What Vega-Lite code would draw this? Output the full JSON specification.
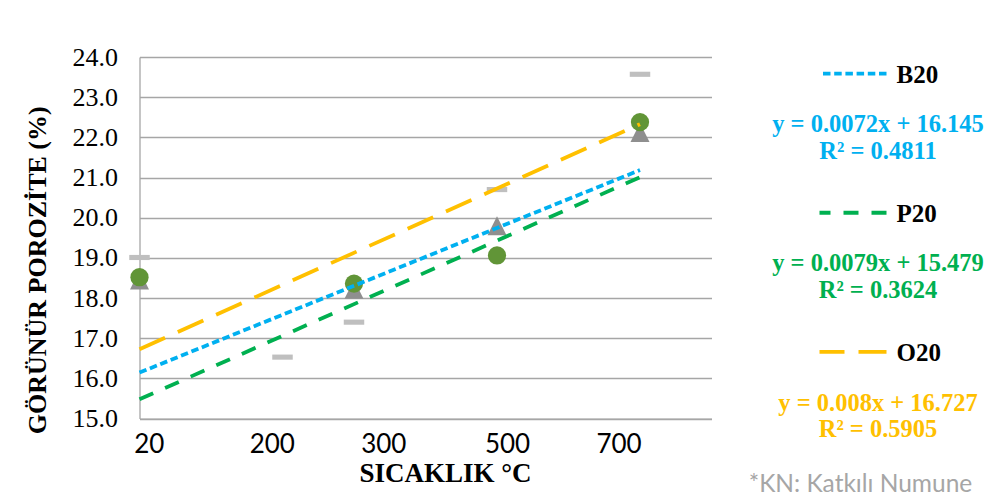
{
  "$schema": "https://vega.github.io/schema/vega-lite/v6.json",
  "background": "white",
  "padding": {"left": 23.5, "top": 44, "right": 0, "bottom": 0},
  "spacing": 37,
  "config": {"view": {"stroke": null}, "font": "Liberation Serif"},
  "datasets": {
    "olcum": [
      {"seri": "B20", "sicaklik": 0, "porozite": 18.45},
      {"seri": "B20", "sicaklik": 200, "porozite": 14.37},
      {"seri": "B20", "sicaklik": 300, "porozite": 18.22},
      {"seri": "B20", "sicaklik": 500, "porozite": 19.8},
      {"seri": "B20", "sicaklik": 700, "porozite": 22.12},
      {"seri": "P20", "sicaklik": 0, "porozite": 18.52},
      {"seri": "P20", "sicaklik": 200, "porozite": 12.51},
      {"seri": "P20", "sicaklik": 300, "porozite": 18.36},
      {"seri": "P20", "sicaklik": 500, "porozite": 19.06},
      {"seri": "P20", "sicaklik": 700, "porozite": 22.38},
      {"seri": "O20", "sicaklik": 0, "porozite": 19.01},
      {"seri": "O20", "sicaklik": 200, "porozite": 16.53},
      {"seri": "O20", "sicaklik": 300, "porozite": 17.4},
      {"seri": "O20", "sicaklik": 500, "porozite": 20.7},
      {"seri": "O20", "sicaklik": 700, "porozite": 23.57}
    ],
    "egilim": [
      {"seri": "B20", "sicaklik": 0, "porozite": 16.145},
      {"seri": "B20", "sicaklik": 700, "porozite": 21.185},
      {"seri": "P20", "sicaklik": 0, "porozite": 15.479},
      {"seri": "P20", "sicaklik": 700, "porozite": 21.009},
      {"seri": "O20", "sicaklik": 0, "porozite": 16.727},
      {"seri": "O20", "sicaklik": 700, "porozite": 22.327}
    ],
    "aciklama": [
      {"seri": "B20", "etiket": "B20", "denklem": "y = 0.0072x + 16.145", "r2": "R² = 0.4811"},
      {"seri": "P20", "etiket": "P20", "denklem": "y = 0.0079x + 15.479", "r2": "R² = 0.3624"},
      {"seri": "O20", "etiket": "O20", "denklem": "y = 0.008x + 16.727", "r2": "R² = 0.5905"},
      {"seri": "not", "etiket": "*KN: Katkılı Numune", "denklem": "", "r2": ""}
    ]
  },
  "hconcat": [
    {
      "width": 572,
      "height": 361.6,
      "encoding": {
        "x": {
          "field": "sicaklik",
          "type": "quantitative",
          "scale": {"domain": [0, 800], "nice": false, "zero": false},
          "axis": {
            "values": [13, 185, 341, 514, 670],
            "labelExpr": "datum.value < 100 ? '20' : datum.value < 250 ? '200' : datum.value < 400 ? '300' : datum.value < 600 ? '500' : '700'",
            "grid": false,
            "ticks": false,
            "domainColor": "#a6a6a6",
            "domainWidth": 1.3,
            "labelFont": "Lato",
            "labelFontSize": 26,
            "labelColor": "#000000",
            "labelPadding": 13,
            "labelFlush": false,
            "labelOverlap": false,
            "title": "SICAKLIK °C",
            "titleFont": "Liberation Serif",
            "titleFontSize": 27,
            "titleFontWeight": "bold",
            "titleColor": "#000000",
            "titleX": 305.5,
            "titleY": 63,
            "titleAlign": "center",
            "titleBaseline": "alphabetic"
          }
        },
        "y": {
          "field": "porozite",
          "type": "quantitative",
          "scale": {"domain": [15, 24], "nice": false, "zero": false},
          "axis": {
            "values": [15, 16, 17, 18, 19, 20, 21, 22, 23, 24],
            "format": ".1f",
            "grid": true,
            "gridColor": "#a6a6a6",
            "gridWidth": 1.3,
            "domainColor": "#a6a6a6",
            "domainWidth": 1.3,
            "ticks": false,
            "labelFont": "Liberation Serif",
            "labelFontSize": 26,
            "labelColor": "#000000",
            "labelPadding": 22,
            "title": "GÖRÜNÜR POROZİTE (%)",
            "titleFont": "Liberation Serif",
            "titleFontSize": 26,
            "titleFontWeight": "bold",
            "titleColor": "#000000",
            "titleAngle": -90,
            "titleX": -94,
            "titleY": 212.8,
            "titleAlign": "center",
            "titleBaseline": "alphabetic"
          }
        }
      },
      "layer": [
        {
          "data": {"name": "olcum"},
          "transform": [{"filter": "datum.seri === 'B20' && datum.porozite >= 15"}],
          "mark": {"type": "point", "shape": "M0,-1L1,1L-1,1Z", "filled": true, "size": 361, "color": "#8f8f8f", "opacity": 1}
        },
        {
          "data": {"name": "olcum"},
          "transform": [{"filter": "datum.seri === 'P20' && datum.porozite >= 15"}],
          "mark": {"type": "point", "shape": "circle", "filled": true, "size": 333, "color": "#619537", "opacity": 1}
        },
        {
          "data": {"name": "olcum"},
          "transform": [{"filter": "datum.seri === 'O20' && datum.porozite >= 15"}],
          "mark": {"type": "point", "shape": "M-1,-0.25L1,-0.25L1,0.25L-1,0.25Z", "filled": true, "size": 420, "color": "#bfbfbf", "opacity": 1}
        },
        {
          "data": {"name": "egilim"},
          "mark": {"type": "line", "strokeWidth": 3.8, "strokeCap": "butt"},
          "encoding": {
            "color": {"field": "seri", "type": "nominal", "scale": {"domain": ["B20", "P20", "O20"], "range": ["#00b0f0", "#00b050", "#ffc000"]}, "legend": null},
            "strokeDash": {"field": "seri", "type": "nominal", "scale": {"domain": ["B20", "P20", "O20"], "range": [[7.5, 3.7], [15, 13], [28, 14]]}, "legend": null}
          }
        }
      ]
    },
    {
      "width": 67,
      "height": 450.7,
      "data": {"name": "aciklama"},
      "encoding": {
        "y": {"field": "seri", "type": "nominal", "scale": {"type": "point", "domain": ["B20", "P20", "O20", "not"], "padding": 0.119}, "axis": null}
      },
      "layer": [
        {
          "transform": [{"filter": "datum.seri !== 'not'"}],
          "mark": {"type": "rule", "strokeWidth": 3.8, "strokeCap": "butt"},
          "encoding": {
            "color": {"field": "seri", "type": "nominal", "scale": {"domain": ["B20", "P20", "O20"], "range": ["#00b0f0", "#00b050", "#ffc000"]}, "legend": null},
            "strokeDash": {"field": "seri", "type": "nominal", "scale": {"domain": ["B20", "P20", "O20"], "range": [[7.5, 3.7], [15, 13], [28, 14]]}, "legend": null}
          }
        },
        {
          "transform": [{"filter": "datum.seri !== 'not'"}],
          "mark": {"type": "text", "align": "left", "baseline": "middle", "dx": 43.5, "dy": 1.5, "font": "Liberation Serif", "fontWeight": "bold", "fontSize": 25, "color": "#000000"},
          "encoding": {"text": {"field": "etiket"}}
        },
        {
          "transform": [{"filter": "datum.seri !== 'not'"}],
          "mark": {"type": "text", "align": "center", "baseline": "alphabetic", "dx": 25, "dy": 58.7, "font": "Liberation Serif", "fontWeight": "bold", "fontSize": 24.5},
          "encoding": {
            "text": {"field": "denklem"},
            "color": {"field": "seri", "type": "nominal", "scale": {"domain": ["B20", "P20", "O20"], "range": ["#00b0f0", "#00b050", "#ffc000"]}, "legend": null}
          }
        },
        {
          "transform": [{"filter": "datum.seri !== 'not'"}],
          "mark": {"type": "text", "align": "center", "baseline": "alphabetic", "dx": 25, "dy": 85.4, "font": "Liberation Serif", "fontWeight": "bold", "fontSize": 24.5},
          "encoding": {
            "text": {"field": "r2"},
            "color": {"field": "seri", "type": "nominal", "scale": {"domain": ["B20", "P20", "O20"], "range": ["#00b0f0", "#00b050", "#ffc000"]}, "legend": null}
          }
        },
        {
          "transform": [{"filter": "datum.seri === 'not'"}],
          "mark": {"type": "text", "align": "center", "baseline": "alphabetic", "dx": 7.5, "dy": 1, "font": "Lato", "fontSize": 24.5, "color": "#a6a6a6"},
          "encoding": {"text": {"field": "etiket"}}
        }
      ]
    }
  ]
}
